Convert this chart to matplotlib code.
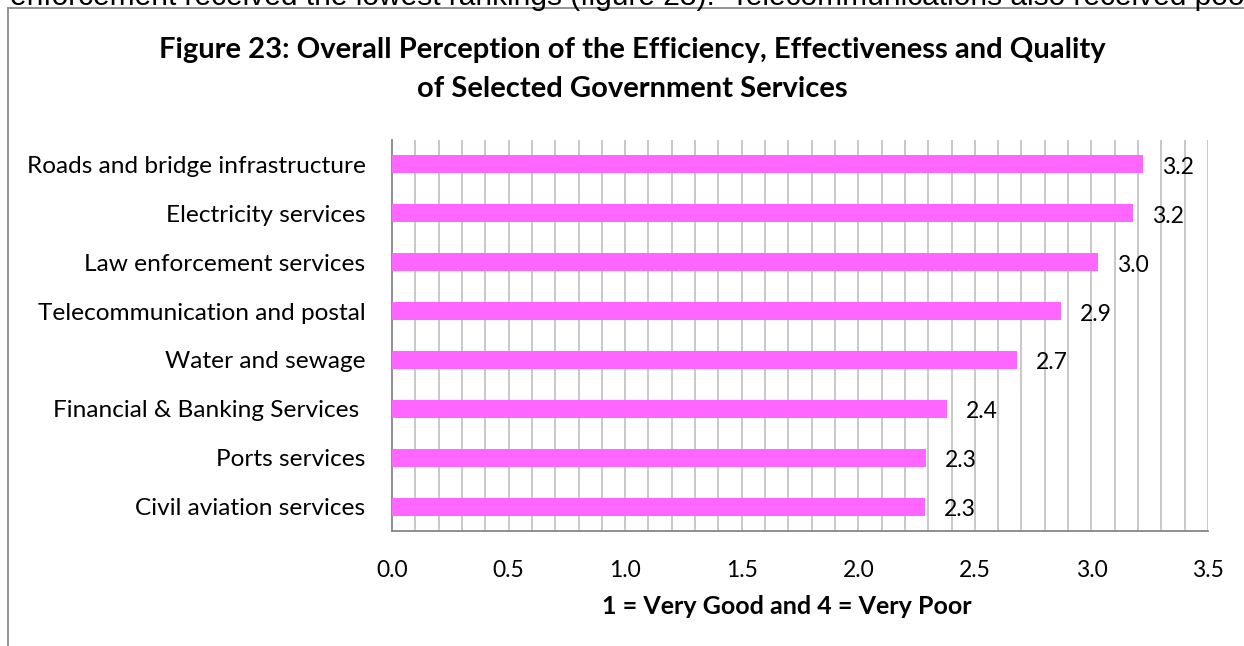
import matplotlib
matplotlib.use('Agg')
import matplotlib.pyplot as plt
from matplotlib.lines import Line2D

# services, top to bottom as shown
services = ['Roads and bridge infrastructure', 'Electricity services',
            'Law enforcement services', 'Telecommunication and postal',
            'Water and sewage', 'Financial & Banking Services ',
            'Ports services', 'Civil aviation services']
scores = [3.22, 3.18, 3.03, 2.87, 2.68, 2.38, 2.29, 2.285]
score_labels = ['3.2', '3.2', '3.0', '2.9', '2.7', '2.4', '2.3', '2.3']
xticks = [0.0, 0.5, 1.0, 1.5, 2.0, 2.5, 3.0, 3.5]

FONT = 'Lato'
bar_col = '#FF66FF'
grid_col = '#BFBFBF'
axis_col = '#868686'

fig = plt.figure(figsize=(12.44, 6.46), dpi=100)
ax = fig.add_axes([392/1244, 115/646, 816/1244, 391/646])

ypos = list(range(len(services)))[::-1]
ax.barh(ypos, scores, height=0.37, color=bar_col, zorder=3)

for y, v, lab in zip(ypos, scores, score_labels):
    ax.annotate(lab, (v, y), xytext=(19, -3), textcoords='offset pixels',
                ha='left', va='center', fontsize=16.5, family=FONT, zorder=4)

ax.set_xlim(0, 3.5)
ax.set_ylim(-0.5, len(services) - 0.5)

# light vertical grid every 0.1
for i in range(1, 36):
    ax.axvline(i / 10, color=grid_col, lw=1.2, zorder=1)

ax.set_xticks(xticks)
ax.set_xticklabels(['%.1f' % t for t in xticks], family=FONT, fontsize=16.5)
ax.set_yticks(ypos)
ax.set_yticklabels(services, family=FONT, fontsize=17.6)
ax.tick_params(axis='both', length=0)
ax.tick_params(axis='x', pad=21)
ax.tick_params(axis='y', pad=19)

for s in ['top', 'right']:
    ax.spines[s].set_visible(False)
for s in ['left', 'bottom']:
    ax.spines[s].set_color(axis_col)
    ax.spines[s].set_linewidth(1.3)

ax.set_xlabel('1 = Very Good and 4 = Very Poor', family=FONT, fontsize=18,
              fontweight='bold', labelpad=11)
ax.xaxis.set_label_coords(787/1244, 1 - 607/646, transform=fig.transFigure)
ax.xaxis.label.set_va('center')

fig.text(632/1244, 1 - 50/646,
         'Figure 23: Overall Perception of the Efficiency, Effectiveness and Quality',
         ha='center', va='center', family=FONT, fontsize=21, fontweight='bold')
fig.text(632/1244, 1 - 89/646, 'of Selected Government Services',
         ha='center', va='center', family=FONT, fontsize=21, fontweight='bold')

# running text of the page above the chart frame, cut at the top edge
fig.text(10/1244, 1 - 5/646,
         'enforcement received the lowest rankings (figure 23).  '
         'Telecommunications also received poor',
         ha='left', va='baseline', family='Liberation Sans', fontsize=21.5)

# chart frame
fig.add_artist(Line2D([8/1244, 8/1244], [0, 1 - 8/646], color='#8C8C8C',
                      lw=1.3, transform=fig.transFigure))
fig.add_artist(Line2D([8/1244, 1], [1 - 8/646, 1 - 8/646], color='#8C8C8C',
                      lw=1.3, transform=fig.transFigure))

fig.savefig('out.png', dpi=100)
